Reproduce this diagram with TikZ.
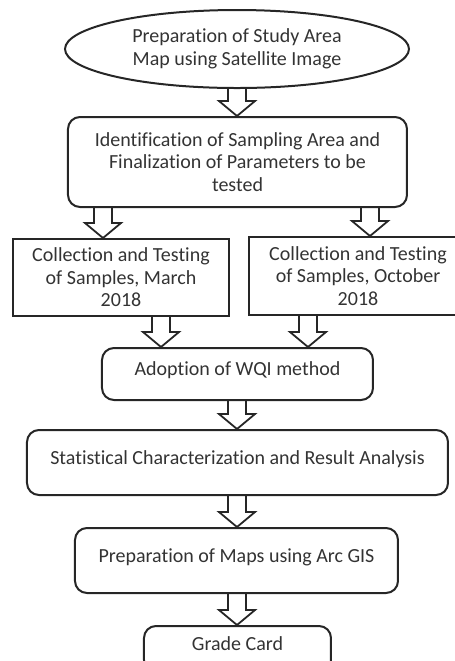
\documentclass[tikz,border=0pt]{standalone}
\usepackage{fontspec}
\setmainfont{Carlito}[Ligatures=NoCommon]
\usetikzlibrary{calc,shapes.geometric}
\def\blockarrow(#1)(#2)(#3){\draw[arrowline] let \p1=(#2), \p2=(#3) in (#1-4.5pt,\y1) -- (#1-4.5pt,\y2+7.5pt) -- (#1-9pt,\y2+7.5pt) -- (#1,\y2) -- (#1+9pt,\y2+7.5pt) -- (#1+4.5pt,\y2+7.5pt) -- (#1+4.5pt,\y1);}
\tikzset{
	roundbox/.style={draw=black!85, line width=1pt, rounded corners=6pt, align=center, text=black!80, font=\fontsize{10}{11.25}\selectfont, inner sep=0pt},
	flatbox/.style={roundbox, sharp corners},
	oval/.style={roundbox, ellipse},
	upshift/.style={text height=7pt, text depth=5.5pt},
	arrowline/.style={draw=black!85, line width=0.9pt, line join=miter}
}

\begin{document}
\begin{tikzpicture}
		%%%%% START %%%%%
		
		\useasboundingbox (0, 0) rectangle (227.5pt, -330.5pt);
		\clip (0, 0) rectangle (227.5pt, -330.5pt);
		
		\node[oval, minimum width=172pt, minimum height=39pt] (studymap) at (118.5pt, -24.5pt) {Preparation of Study Area\\Map using Satellite Image};
		\node[roundbox, minimum width=169.5pt, minimum height=45pt] (sampling) at (118.75pt, -81pt) {Identification of Sampling Area and\\Finalization of Parameters to be\\tested};
		
		\node[flatbox, minimum width=108pt, minimum height=38.5pt] (march) at (60.5pt, -138.75pt) {Collection and Testing\\of Samples, March\\2018};
		\node[flatbox, minimum width=109pt, minimum height=39pt] (october) at (179pt, -138pt) {Collection and Testing\\of Samples, October\\2018};
		
		\node[roundbox, upshift, minimum width=135.5pt, minimum height=26pt] (wqi) at (118.75pt, -187pt) {Adoption of WQI method};
		\node[roundbox, upshift, minimum width=210.5pt, minimum height=32.5pt] (analysis) at (118.75pt, -231.25pt) {Statistical Characterization and Result Analysis};
		\node[roundbox, upshift, minimum width=161.5pt, minimum height=32.5pt] (gismaps) at (118.25pt, -280.25pt) {Preparation of Maps using Arc GIS};
		\node[roundbox, upshift, minimum width=93.5pt, minimum height=23pt] (gradecard) at (118.75pt, -324.5pt) {Grade Card};
		
		\blockarrow(118.5pt)(studymap.south)(sampling.north)
		\blockarrow(51.5pt)(sampling.south)(march.north)
		\blockarrow(185pt)(sampling.south)(october.north)
		\blockarrow(80.5pt)(march.south)(wqi.north)
		\blockarrow(154pt)(october.south)(wqi.north)
		\blockarrow(118.5pt)(wqi.south)(analysis.north)
		\blockarrow(118.5pt)(analysis.south)(gismaps.north)
		\blockarrow(118.5pt)(gismaps.south)(gradecard.north)
		
		%%%%% END %%%%%
	\end{tikzpicture}
\end{document}
